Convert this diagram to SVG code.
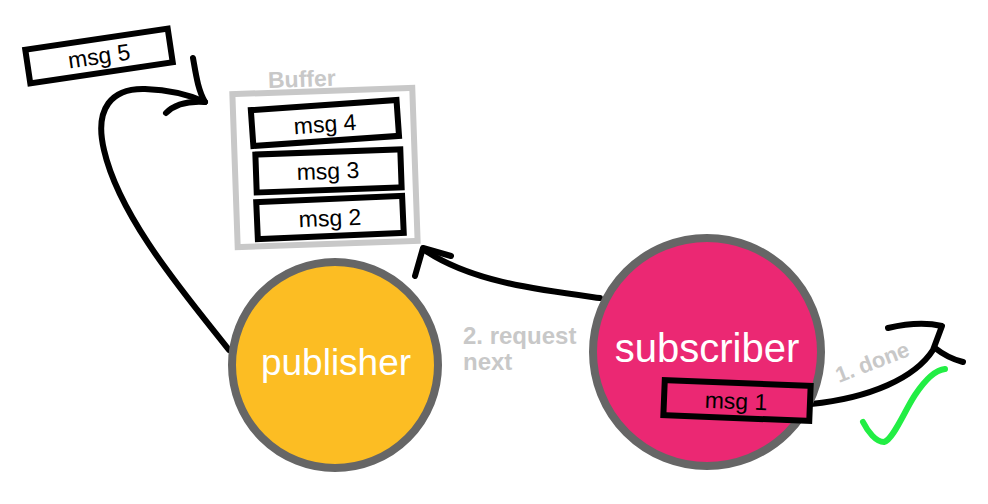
<svg xmlns="http://www.w3.org/2000/svg" width="988" height="504" viewBox="0 0 988 504">
<style>
.conn{fill:none;stroke:#000;stroke-width:6;stroke-linecap:round;stroke-linejoin:round}
.msg{fill:#fff;stroke:#000;stroke-width:6}
.mt{font-family:"Liberation Sans",Arial,sans-serif;font-size:23px;fill:#000;text-anchor:middle}
.lbl{font-family:"Liberation Sans",Arial,sans-serif;font-weight:bold;fill:#c8c8c8}
.node{stroke:#666;stroke-width:8}
.nt{font-family:"Liberation Sans",Arial,sans-serif;fill:#fff;text-anchor:middle}
</style>
<rect width="988" height="504" fill="#fff"/>
<g id="connectors">
<path class="conn" d="M229,350 C190,300 120,220 104,150 C94,108 112,88 145,89 C172,90 192,96 205,102"/>
<path class="conn" d="M193,58 C196,75 198,90 205,102 C190,101 175,104 166,113"/>
<path class="conn" d="M600,298 C540,290 470,282 423,249"/>
<path class="conn" d="M451,256 L423,248 L415,276"/>
<path class="conn" d="M811,404 C870,398 915,378 933,350 L942,326 C925,322 905,324 888,328"/>
<path class="conn" d="M935,348 C945,356 955,360 963,362"/>
</g>
<g id="msg5">
<rect class="msg" x="27" y="39" width="144" height="34" transform="rotate(-8.5 99 56)"/>
<text class="mt" x="99" y="64" transform="rotate(-8.5 99 56)">msg 5</text>
</g>
<g id="buffer">
<rect x="235" y="91" width="180" height="153" fill="#fff" stroke="#c8c8c8" stroke-width="6" transform="rotate(-2 325 168)"/>
<text class="lbl" x="268" y="87" font-size="23" transform="rotate(-2 300 80)">Buffer</text>
</g>
<g id="msg4">
<rect class="msg" x="252" y="105" width="146" height="36" transform="rotate(-4 325 124)"/>
<text class="mt" x="325" y="132" transform="rotate(-4 325 124)">msg 4</text>
</g>
<g id="msg3">
<rect class="msg" x="256" y="152" width="145" height="38" transform="rotate(-2 328 171)"/>
<text class="mt" x="328" y="179" transform="rotate(-2 328 171)">msg 3</text>
</g>
<g id="msg2">
<rect class="msg" x="257" y="199" width="146" height="37" transform="rotate(-2.5 330 218)"/>
<text class="mt" x="330" y="226" transform="rotate(-2.5 330 218)">msg 2</text>
</g>
<g id="publisher">
<circle class="node" cx="335" cy="365" r="103" fill="#fcbd23"/>
<text class="nt" x="336" y="375" font-size="37">publisher</text>
</g>
<g id="request-label">
<text class="lbl" font-size="24"><tspan x="463" y="344">2. request</tspan><tspan x="463" y="370">next</tspan></text>
</g>
<g id="subscriber">
<circle class="node" cx="707" cy="352" r="114" fill="#eb2873"/>
<text class="nt" x="707" y="362" font-size="40">subscriber</text>
</g>
<g id="msg1">
<rect x="664" y="383" width="146" height="35" fill="#eb2873" stroke="#000" stroke-width="6" transform="rotate(2.3 736 401)"/>
<text class="mt" x="736" y="409" transform="rotate(2.3 736 401)">msg 1</text>
</g>
<g id="done-label">
<text class="lbl" x="839" y="383" font-size="22" transform="rotate(-21 839 383)">1. done</text>
</g>
<g id="check">
<path d="M863,422 C868,432 876,442 884,442 C893,440 905,410 915,395 C925,380 935,370 945,369" fill="none" stroke="#22ee44" stroke-width="6" stroke-linecap="round" stroke-linejoin="round"/>
</g>
</svg>
